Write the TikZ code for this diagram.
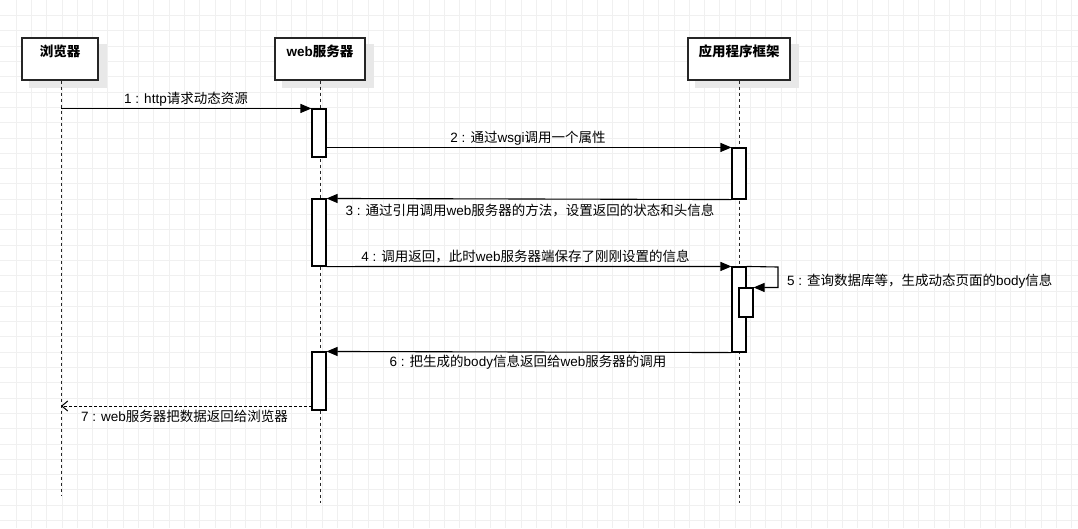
\documentclass[tikz,border=0pt]{standalone}
\usepackage{fontspec}
\setmainfont{Liberation Sans}
\newfontfamily\cjk{Noto Sans CJK SC}
\usetikzlibrary{arrows.meta}
\begin{document}
\begin{tikzpicture}[x=1pt,y=-1pt,
  every node/.style={font=\fontsize{13.5}{16}\selectfont},
  gridline/.style={draw=black!6, line width=0.7pt},
  headbox/.style={draw=black!85, line width=1.4pt, fill=white, minimum width=#1, minimum height=42pt, inner sep=0pt},
  headtitle/.style={font=\fontsize{13.5}{16}\selectfont\bfseries, inner sep=0pt},
  actbox/.style={draw=black, line width=1.1pt, fill=white, minimum width=14pt, minimum height=#1, inner sep=0pt},
  lifeline/.style={draw=black!85, line width=0.9pt, dash pattern=on 3pt off 3pt},
  msg/.style={draw=black, line width=1.1pt, -{Triangle[length=11pt,width=9pt]}},
  retmsg/.style={draw=black, line width=1pt, dash pattern=on 3pt off 2pt, -{Straight Barb[length=6pt,width=10pt]}},
  lbl/.style={inner sep=0pt, text=black}
]
\useasboundingbox (0,0) rectangle (1078,528);
\fill[white] (0,0) rectangle (1078,528);
% grid
\foreach \i in {0,...,69} \draw[gridline] ({16+15.3*\i},0) -- ({16+15.3*\i},528);
\foreach \j in {0,...,33} \draw[gridline] (0,{15.5+15.3*\j}) -- (1078,{15.5+15.3*\j});

% heads
\node[headbox=76pt] (B) at (60,59) {};
\node[headbox=90pt] (W) at (320,59) {};
\node[headbox=102pt] (A) at (739,59) {};
\foreach \h in {B,W,A}
  \fill[black!9] ([shift={(8,7)}]\h.north west) rectangle ([shift={(8,7)}]\h.south east);
\node[headbox=76pt] (B) at (60,59) {};
\node[headbox=90pt] (W) at (320,59) {};
\node[headbox=102pt] (A) at (739,59) {};
\node[headtitle] (Bt) at (60,51.5) {\cjk\bfseries 浏览器};
\node[headtitle] (Wt) at (320,51.5) {web{\cjk\bfseries 服务器}};
\node[headtitle] (At) at (739,51.5) {\cjk\bfseries 应用程序框架};

% lifeline ends
\coordinate (Bend) at (61,495);
\coordinate (Wend) at (320,503);
\coordinate (Aend) at (739,503);
\draw[lifeline] (B.south -| Bend) -- (Bend);
\draw[lifeline] (W.south -| Wend) -- (Wend);
\draw[lifeline] (A.south -| Aend) -- (Aend);

% activations
\node[actbox=48pt] (wa1) at (319,133) {};
\node[actbox=51pt] (aa1) at (739,173.5) {};
\node[actbox=67pt] (wa2) at (319,232.5) {};
\node[actbox=85pt] (aa2) at (739,309.5) {};
\node[actbox=29pt] (an) at (746,302.5) {};
\node[actbox=58pt] (wa3) at (319,381) {};

% messages
\draw[msg] (Bend |- wa1.north) -- (wa1.north west);
\node[lbl] (m1) at (186,99) {1 : http{\cjk 请求动态资源}};

\draw[msg] (wa1.east |- aa1.north) -- (aa1.north west);
\node[lbl] (m2) at (528,138) {2 : {\cjk 通过}wsgi{\cjk 调用一个属性}};

\draw[msg] (aa1.south west) -- (wa2.north east);
\node[lbl] (m3) at (530,210) {3 : {\cjk 通过引用调用}web{\cjk 服务器的方法，设置返回的状态和头信息}};

\draw[msg] (wa2.south east) -- (aa2.north west);
\node[lbl] (m4) at (525.5,256.5) {4 : {\cjk 调用返回，此时}web{\cjk 服务器端保存了刚刚设置的信息}};

\coordinate (s1) at (778,267);
\draw[msg] (aa2.north east) -- (s1) -- (s1 |- an.north) -- (an.north east);
\node[lbl, anchor=west] (m5) at (787,281.5) {5 : {\cjk 查询数据库等，生成动态页面的}body{\cjk 信息}};

\draw[msg] (aa2.south west) -- (wa3.north east);
\node[lbl] (m6) at (528,362) {6 : {\cjk 把生成的}body{\cjk 信息返回给}web{\cjk 服务器的调用}};

\coordinate (r7) at (312,406);
\draw[retmsg] (r7) -- (Bend |- r7);
\node[lbl] (m7) at (184.5,416.5) {7 : web{\cjk 服务器把数据返回给浏览器}};
\end{tikzpicture}
\end{document}
